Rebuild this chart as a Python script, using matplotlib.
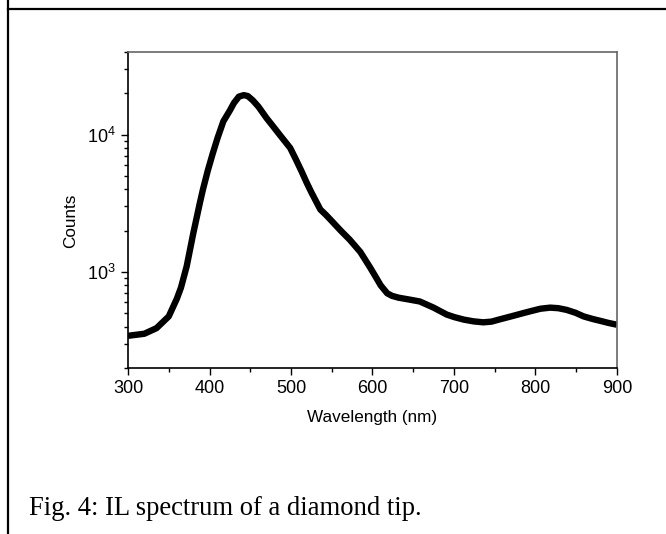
"""IL spectrum of a diamond tip: counts vs wavelength on a log axis."""

import matplotlib
matplotlib.use("Agg")
import matplotlib.pyplot as plt
from matplotlib.lines import Line2D
from matplotlib.ticker import MultipleLocator, LogLocator, NullFormatter

# values
wavelength = [300, 320, 335, 350, 360, 365, 372, 380, 388, 392, 398, 404, 410,
              417, 425, 430, 436, 442, 447, 453, 460, 470, 478, 486, 499, 506,
              513, 519, 525, 536, 543, 550, 561, 572, 585, 597, 604, 610, 618,
              624, 632, 645, 658, 675, 691, 700, 712, 724, 736, 746, 755, 773,
              784, 795, 806, 818, 828, 838, 849, 859, 870, 880, 890, 900]
counts = [343, 355, 390, 475, 640, 770, 1100, 1900, 3150, 4000, 5500, 7300,
          9500, 12500, 15000, 17000, 18900, 19400, 19100, 17800, 16000, 13200,
          11500, 10000, 8000, 6600, 5400, 4500, 3800, 2850, 2600, 2350, 2000,
          1720, 1400, 1080, 920, 800, 700, 670, 650, 630, 610, 550, 490, 470,
          450, 437, 430, 435, 450, 480, 500, 520, 540, 550, 545, 530, 505, 475,
          455, 440, 425, 413]
x_ticks = [300, 400, 500, 600, 700, 800, 900]
caption = "Fig. 4: IL spectrum of a diamond tip."

plt.rcParams["font.family"] = ["Liberation Sans", "DejaVu Sans"]

fig = plt.figure(figsize=(6.66, 5.34), dpi=100)
ax = fig.add_axes([0.1922, 0.3109, 0.7342, 0.5918])

ax.plot(wavelength, counts, color="black", lw=4.6,
        solid_joinstyle="round", solid_capstyle="butt")

ax.set_yscale("log")
ax.set_xlim(300, 900)
ax.set_ylim(200, 40000)
ax.set_xticks(x_ticks)
ax.xaxis.set_minor_locator(MultipleLocator(50))
ax.yaxis.set_minor_locator(LogLocator(base=10, subs=range(2, 10)))
ax.yaxis.set_minor_formatter(NullFormatter())

ax.tick_params(which="both", direction="out", top=False, right=False,
               width=1, labelsize=13, pad=4)
ax.tick_params(which="major", length=5)
ax.tick_params(which="minor", length=3)

for side in ("left", "bottom"):
    ax.spines[side].set_color("black")
    ax.spines[side].set_linewidth(1.2)
for side in ("top", "right"):
    ax.spines[side].set_color("#666666")
    ax.spines[side].set_linewidth(1.2)

ax.set_xlabel("Wavelength (nm)", fontsize=12.3, labelpad=9)
ax.set_ylabel("Counts", fontsize=12.3)
ax.yaxis.set_label_coords(-0.102, 0.465)

# page border lines framing the figure cell
fig.add_artist(Line2D([8 / 666, 1], [1 - 9 / 534, 1 - 9 / 534],
                      transform=fig.transFigure, color="black", lw=1.6))
fig.add_artist(Line2D([8 / 666, 8 / 666], [0, 1],
                      transform=fig.transFigure, color="black", lw=1.6))

fig.text(29 / 666, 19 / 534, caption, family=["Liberation Serif", "DejaVu Serif"],
         fontsize=19.2, va="baseline", ha="left")

fig.savefig("out.png", dpi=100)
